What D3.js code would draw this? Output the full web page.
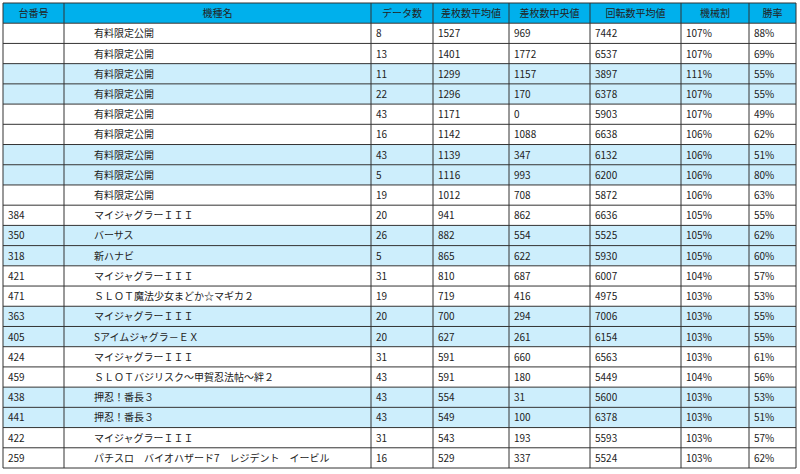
<!DOCTYPE html>
<html><head><meta charset="utf-8">
<script src="https://cdn.jsdelivr.net/npm/d3@7"></script>
<style>body{margin:0;background:#fff}</style>
</head><body><div id="chart"></div>
<script>
var headers = ["台番号","機種名","データ数","差枚数平均値","差枚数中央値","回転数平均値","機械割","勝率"];
var units = ["","","","","","","","","","384","350","318","421","471","363","405","424","459","438","441","422","259"];
var names = ["有料限定公開","有料限定公開","有料限定公開","有料限定公開","有料限定公開","有料限定公開","有料限定公開","有料限定公開","有料限定公開",
  "マイジャグラーＩＩＩ","バーサス","新ハナビ","マイジャグラーＩＩＩ","ＳＬＯＴ魔法少女まどか☆マギカ２","マイジャグラーＩＩＩ","Sアイムジャグラ－ＥＸ","マイジャグラーＩＩＩ","ＳＬＯＴバジリスク～甲賀忍法帖～絆２","押忍！番長３","押忍！番長３","マイジャグラーＩＩＩ","パチスロ　バイオハザード7　レジデント　イービル"];
var counts = [8,13,11,22,43,16,43,5,19,20,26,5,31,19,20,20,31,43,43,43,31,16];
var diffAvg = [1527,1401,1299,1296,1171,1142,1139,1116,1012,941,882,865,810,719,700,627,591,591,554,549,543,529];
var diffMed = [969,1772,1157,170,0,1088,347,993,708,862,554,622,687,416,294,261,660,180,31,100,193,337];
var spins = [7442,6537,3897,6378,5903,6638,6132,6200,5872,6636,5525,5930,6007,4975,7006,6154,6563,5449,5600,6378,5593,5524];
var payout = ["107%","107%","111%","107%","107%","106%","106%","106%","106%","105%","105%","105%","104%","103%","103%","103%","103%","104%","103%","103%","103%","103%"];
var winRate = ["88%","69%","55%","55%","49%","62%","51%","80%","63%","55%","62%","60%","57%","53%","55%","55%","61%","56%","53%","51%","57%","62%"];
var highlight = [0,0,1,1,0,0,1,1,0,0,1,1,0,0,1,1,0,0,1,1,0,0];
var colEdges = [3,64,371,433,509,590,681,749,796];

var width = 800, height = 474;
var svg = d3.select("#chart").append("svg").attr("width", width).attr("height", height)
  .style("font-family", "'Noto Sans CJK JP', sans-serif");

var rows = d3.range(names.length).map(function(i) {
  return [units[i], names[i], counts[i], diffAvg[i], diffMed[i], spins[i], payout[i], winRate[i]];
});

var y = d3.scaleBand().domain(d3.range(-1, rows.length)).range([3, 468]);

// header
svg.append("rect").attr("x", 3).attr("y", y(-1)).attr("width", 793).attr("height", y.bandwidth())
  .attr("fill", "#00b0ec");
svg.selectAll(".hd").data(headers).enter().append("text")
  .attr("x", function(d, i) { return (colEdges[i] + colEdges[i + 1]) / 2; })
  .attr("y", y(-1) + y.bandwidth() / 2 + 4)
  .attr("text-anchor", "middle").attr("font-size", 10).attr("fill", "#222")
  .text(function(d) { return d; });

// body rows
var g = svg.selectAll(".row").data(rows).enter().append("g")
  .attr("transform", function(d, i) { return "translate(0," + y(i) + ")"; });
g.append("rect").attr("x", 3).attr("width", 793).attr("height", y.bandwidth())
  .attr("fill", function(d, i) { return highlight[i] ? "#cdeefc" : "#fff"; });
g.selectAll("text").data(function(d) { return d; }).enter().append("text")
  .attr("x", function(d, i) { return colEdges[i] + (i === 1 ? 30 : 5); })
  .attr("y", y.bandwidth() / 2 + 4)
  .attr("font-size", 10).attr("fill", "#222")
  .text(function(d) { return d; });

// grid lines
svg.selectAll(".hl").data(d3.range(-1, rows.length + 1)).enter().append("line")
  .attr("x1", 3).attr("x2", 796)
  .attr("y1", function(i) { return i === rows.length ? 468 : y(i); })
  .attr("y2", function(i) { return i === rows.length ? 468 : y(i); })
  .attr("stroke", "#333").attr("stroke-width", 1);
svg.selectAll(".vl").data(colEdges).enter().append("line")
  .attr("x1", function(d) { return d; }).attr("x2", function(d) { return d; })
  .attr("y1", 3).attr("y2", 468).attr("stroke", "#333").attr("stroke-width", 1);
</script></body></html>
